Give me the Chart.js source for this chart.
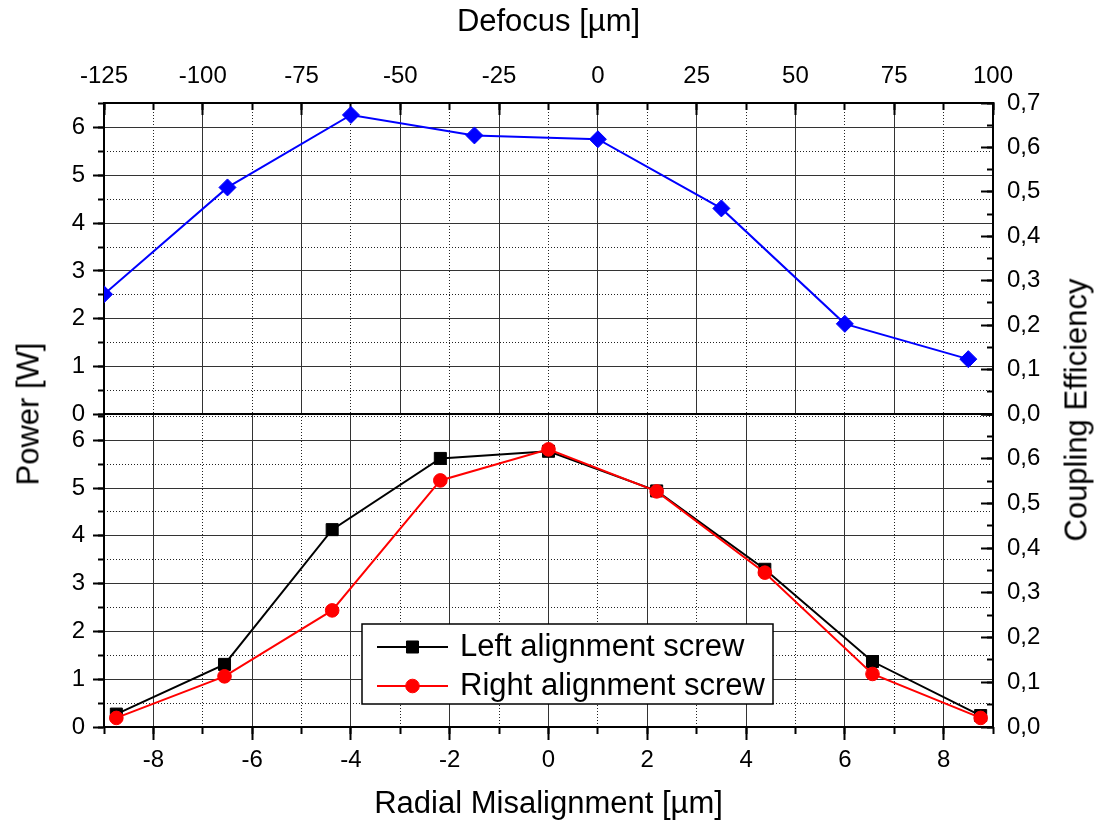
<!DOCTYPE html>
<html>
<head>
<meta charset="utf-8">
<script src="https://cdn.jsdelivr.net/npm/chart.js@4.4.1/dist/chart.umd.min.js"></script>
<style>
  body { margin: 0; background: #fff; }
  #wrap { position: relative; width: 1096px; height: 824px; overflow: hidden; }
  #topChart { position: absolute; left: 0; top: 0; }
  #bottomChart { position: absolute; left: 0; top: 398px; }
  .ytitle {
    position: absolute;
    font-family: 'Liberation Sans', Arial, sans-serif;
    font-size: 31px;
    line-height: 1;
    white-space: nowrap;
    color: #000;
    transform: translate(-50%, -50%) rotate(-90deg);
  }
</style>
</head>
<body>
<div id="wrap">
  <canvas id="topChart" width="1096" height="432"></canvas>
  <canvas id="bottomChart" width="1096" height="426"></canvas>
  <div class="ytitle" style="left:28px; top:414px">Power [W]</div>
  <div class="ytitle" style="left:1076px; top:410px">Coupling Efficiency</div>
</div>
<script>
const defocus = [-125, -93.75, -62.5, -31.25, 0, 31.25, 62.5, 93.75]
const defocusPower = [2.51, 4.75, 6.27, 5.84, 5.76, 4.31, 1.89, 1.15]

const radial = [-8.75, -6.56, -4.38, -2.19, 0, 2.19, 4.38, 6.56, 8.75]
const leftScrewPower = [0.27, 1.31, 4.13, 5.62, 5.77, 4.94, 3.30, 1.37, 0.24]
const rightScrewPower = [0.19, 1.06, 2.44, 5.16, 5.81, 4.93, 3.23, 1.11, 0.19]

const defocusTicks = [-125, -100, -75, -50, -25, 0, 25, 50, 75, 100]
const radialTicks = [-8, -6, -4, -2, 0, 2, 4, 6, 8]
const powerTicks = [0, 1, 2, 3, 4, 5, 6]
const efficiencyTicks = [0, 0.1, 0.2, 0.3, 0.4, 0.5, 0.6, 0.7]

const defocusRange = [-125, 100]
const radialRange = [-9, 9]
const powerMaxTop = 6.52
const powerMaxBottom = 6.55
const efficiencyMax = 0.7

const FONT = "'Liberation Sans', Arial, sans-serif"
Chart.defaults.font.family = FONT
Chart.defaults.color = '#000'

const Utils = {
  onStep(v, step) {
    const r = v / step
    return Math.abs(r - Math.round(r)) < 1e-6
  },
  comma(v) {
    return v.toFixed(1).replace('.', ',')
  },
  pairs(xs, ys) {
    return xs.map((x, i) => ({ x: x, y: ys[i] }))
  },
  fixSize(scale, size) {
    if (scale.isHorizontal()) scale.height = size
    else scale.width = size
    scale.paddingTop = 0
    scale.paddingBottom = 0
    scale.paddingLeft = 0
    scale.paddingRight = 0
  }
}

const Axis = {
  major(position, min, max, values, o) {
    return {
      type: 'linear', position, min, max, weight: 1,
      afterBuildTicks: scale => { scale.ticks = values.map(value => ({ value })) },
      afterFit: scale => Utils.fixSize(scale, o.size),
      ticks: {
        font: { size: 24 }, color: '#000', padding: o.pad,
        autoSkip: false, maxRotation: 0, minRotation: 0,
        callback: o.format || (v => String(v))
      },
      grid: {
        drawOnChartArea: o.gridOn !== false,
        color: '#333', lineWidth: 1,
        tickLength: o.tick, tickWidth: 2, tickColor: '#000'
      },
      border: { color: '#000', width: 2 },
      title: o.title || { display: false }
    }
  },
  minor(position, min, max, step, majorStep, o) {
    return {
      type: 'linear', position, min, max, weight: 0,
      afterFit: scale => Utils.fixSize(scale, 0),
      ticks: { display: false, stepSize: step, includeBounds: false },
      grid: {
        drawOnChartArea: o.gridOn !== false,
        color: c => (c.tick && Utils.onStep(c.tick.value, majorStep)) ? 'rgba(0,0,0,0)' : '#222',
        lineWidth: 1,
        tickLength: o.tick, tickWidth: 2, tickColor: '#000'
      },
      border: { display: false, dash: [1, 2] }
    }
  },
  title(text, padding) {
    return { display: true, text, color: '#000', font: { size: 31 }, padding }
  },
  yPair(powerMax, hideTopEfficiency) {
    return {
      yL: Axis.major('left', 0, powerMax, powerTicks, { size: 104, pad: 8, tick: 11 }),
      yLMinor: Axis.minor('left', 0, powerMax, 0.5, 1, { tick: 6 }),
      yR: Axis.major('right', 0, efficiencyMax, efficiencyTicks, {
        size: 103, pad: 26, tick: -12, gridOn: false,
        format: v => (hideTopEfficiency && v > 0.65) ? '' : Utils.comma(v)
      }),
      yRMinor: Axis.minor('right', 0, efficiencyMax, 0.05, 0.1, { tick: -6, gridOn: false })
    }
  }
}

const Icon = {
  make(color, style, radius) {
    const c = document.createElement('canvas')
    c.width = 71
    c.height = 22
    const ctx = c.getContext('2d')
    ctx.strokeStyle = color
    ctx.lineWidth = 2
    ctx.beginPath()
    ctx.moveTo(0, 11)
    ctx.lineTo(71, 11)
    ctx.stroke()
    ctx.fillStyle = color
    ctx.lineWidth = 1
    Chart.helpers.drawPoint(ctx, { pointStyle: style, radius: radius, borderWidth: 1, rotation: 0 }, 35.5, 11)
    return c
  }
}

const legendBox = {
  id: 'legendBox',
  afterUpdate(chart) {
    const lg = chart.legend
    lg.left = 372.5
    lg.top = 225.5
    lg.right = 775
    lg.bottom = 330
    lg.width = lg.right - lg.left
    lg.height = lg.bottom - lg.top
    lg.adjustHitBoxes()
  },
  afterDatasetsDraw(chart) {
    const ctx = chart.ctx
    ctx.save()
    ctx.fillStyle = '#fff'
    ctx.strokeStyle = '#000'
    ctx.lineWidth = 1.5
    ctx.fillRect(362, 226, 411, 80)
    ctx.strokeRect(362, 226, 411, 80)
    ctx.restore()
    chart.legend.draw()
  }
}

const topScales = Object.assign({
  xTop: Axis.major('top', defocusRange[0], defocusRange[1], defocusTicks, {
    size: 103, pad: 24, tick: -12,
    title: Axis.title('Defocus [µm]', { top: 4, bottom: 0 })
  }),
  xTopMinor: Axis.minor('top', defocusRange[0], defocusRange[1], 12.5, 25, { tick: -7 })
}, Axis.yPair(powerMaxTop, false))

new Chart(document.getElementById('topChart'), {
  type: 'line',
  data: {
    datasets: [{
      label: 'Defocus',
      data: Utils.pairs(defocus, defocusPower),
      xAxisID: 'xTop',
      yAxisID: 'yL',
      borderColor: '#0000ff',
      backgroundColor: '#0000ff',
      borderWidth: 2,
      pointStyle: 'rectRot',
      pointRadius: 8.5,
      pointBorderWidth: 1,
      tension: 0
    }]
  },
  options: {
    responsive: false,
    animation: false,
    events: [],
    layout: { autoPadding: false, padding: { left: 0, right: 0, top: 0, bottom: 18 } },
    plugins: { legend: { display: false }, tooltip: { enabled: false } },
    scales: topScales
  }
})

const bottomScales = Object.assign({
  xBot: Axis.major('bottom', radialRange[0], radialRange[1], radialTicks, {
    size: 97, pad: 6, tick: 13,
    title: Axis.title('Radial Misalignment [µm]', { top: 0, bottom: 1 })
  }),
  xBotMinor: Axis.minor('bottom', radialRange[0], radialRange[1], 1, 2, { tick: 7 }),
  xEdge: {
    type: 'linear', position: 'top', min: radialRange[0], max: radialRange[1],
    afterFit: scale => Utils.fixSize(scale, 16),
    ticks: { display: false },
    grid: { display: false },
    border: { display: true, color: '#000', width: 2 }
  }
}, Axis.yPair(powerMaxBottom, true))

const leftIcon = Icon.make('#000', 'rect', 8.5)
const rightIcon = Icon.make('#ff0000', 'circle', 6.8)

new Chart(document.getElementById('bottomChart'), {
  type: 'line',
  data: {
    datasets: [{
      label: 'Left alignment screw',
      data: Utils.pairs(radial, leftScrewPower),
      xAxisID: 'xBot',
      yAxisID: 'yL',
      order: 1,
      borderColor: '#000',
      backgroundColor: '#000',
      borderWidth: 2,
      pointStyle: 'rect',
      pointRadius: 8.5,
      pointBorderWidth: 1,
      tension: 0
    }, {
      label: 'Right alignment screw',
      data: Utils.pairs(radial, rightScrewPower),
      xAxisID: 'xBot',
      yAxisID: 'yL',
      order: 0,
      borderColor: '#ff0000',
      backgroundColor: '#ff0000',
      borderWidth: 2,
      pointStyle: 'circle',
      pointRadius: 6.8,
      pointBorderWidth: 1,
      tension: 0
    }]
  },
  options: {
    responsive: false,
    animation: false,
    events: [],
    layout: { autoPadding: false, padding: 0 },
    plugins: {
      tooltip: { enabled: false },
      legend: {
        display: true,
        position: 'chartArea',
        align: 'start',
        labels: {
          usePointStyle: true,
          pointStyleWidth: 64,
          padding: 8,
          color: '#000',
          font: { size: 31 },
          generateLabels: () => [
            { text: 'Left alignment screw', pointStyle: leftIcon, fillStyle: '#000', strokeStyle: '#000', lineWidth: 1, hidden: false, datasetIndex: 0, fontColor: '#000' },
            { text: 'Right alignment screw', pointStyle: rightIcon, fillStyle: '#ff0000', strokeStyle: '#ff0000', lineWidth: 1, hidden: false, datasetIndex: 1, fontColor: '#000' }
          ]
        }
      }
    },
    scales: bottomScales
  },
  plugins: [legendBox]
})
</script>
</body>
</html>
